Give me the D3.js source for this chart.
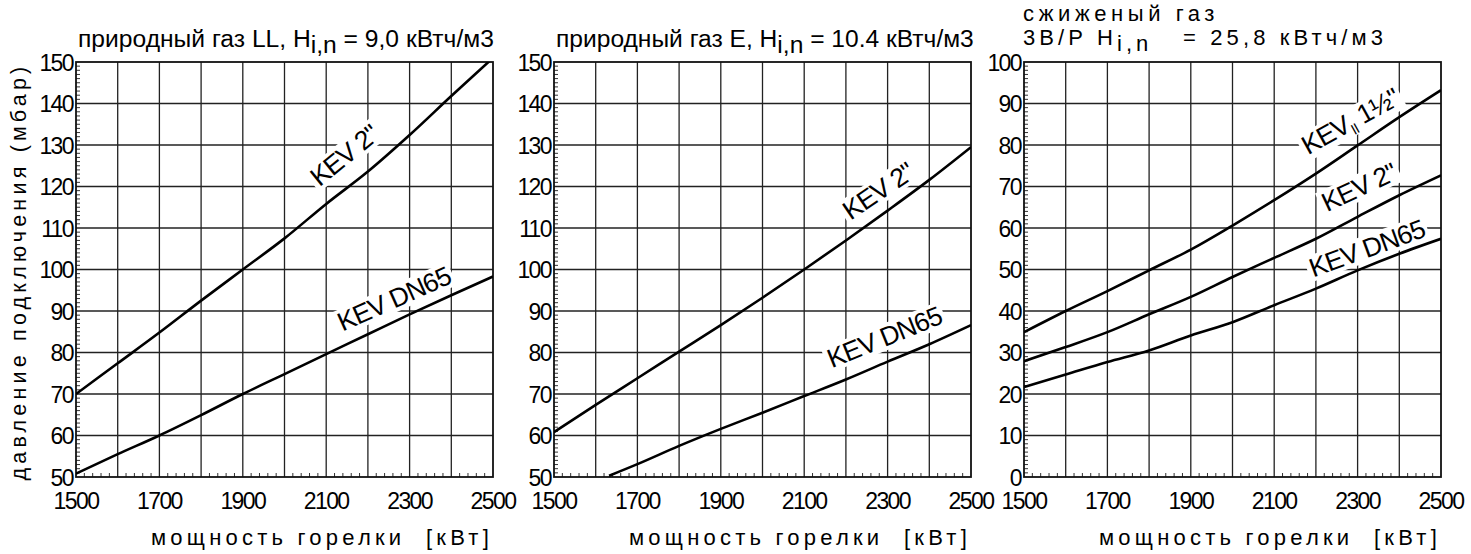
<!DOCTYPE html>
<html><head><meta charset="utf-8">
<script src="https://cdn.jsdelivr.net/npm/d3@7"></script>
<style>body{margin:0;background:#fff}svg{display:block}text{font-family:"Liberation Sans",Arial,sans-serif;fill:#000;white-space:pre}</style>
</head><body>
<svg id="c" width="1471" height="554"></svg>
<script>
// ---- data ----
const powerTicks = [1500, 1700, 1900, 2100, 2300, 2500];
const xFull = [1500, 1600, 1700, 1800, 1900, 2000, 2100, 2200, 2300, 2400, 2500];
const llKev2 = [70, 77.4, 84.8, 92.5, 100, 107.5, 115.8, 123.6, 132.4, 141.8, 151];
const llDN65 = [50.8, 55.5, 60, 64.9, 70, 74.8, 79.6, 84.4, 89.2, 93.8, 98.3];
const eKev2 = [60.8, 67.4, 73.8, 80.2, 86.6, 93.2, 100, 107, 114.2, 121.6, 129.5];
const xEDN65 = [1632, 1700, 1800, 1900, 2000, 2100, 2200, 2300, 2400, 2500];
const eDN65 = [50.3, 53.1, 57.5, 61.6, 65.5, 69.5, 73.5, 77.8, 82, 86.6];
const lpgKevII = [34.9, 40, 44.8, 49.8, 54.8, 60.6, 66.7, 73.1, 79.9, 86.7, 93.2];
const lpgKev2 = [27.9, 31.3, 34.9, 39.2, 43.4, 48.2, 52.8, 57.4, 62.7, 67.9, 72.7];
const lpgDN65 = [21.7, 24.7, 27.7, 30.5, 34.1, 37.3, 41.4, 45.4, 49.8, 53.8, 57.4];
const pressureTicksNG = [50, 60, 70, 80, 90, 100, 110, 120, 130, 140, 150];
const pressureTicksLPG = [0, 10, 20, 30, 40, 50, 60, 70, 80, 90, 100];
const xTitle = "мощность горелки  [кВт]";
const yTitle = "давление подключения (мбар)";

// ---- layout ----
const lefts = [76, 554, 1024], pw = 417, pTop = 62, pBottom = 477;
const svg = d3.select("#c");

const panels = [
  {domain: [50, 150], ticks: pressureTicksNG,
   series: [{x: xFull, y: llKev2}, {x: xFull, y: llDN65}],
   labels: [{t: 'KEV 2"', x: 2143, y: 127.6, a: -39}, {t: "KEV DN65", x: 2262, y: 93, a: -24}]},
  {domain: [50, 150], ticks: pressureTicksNG,
   series: [{x: xFull, y: eKev2}, {x: xEDN65, y: eDN65}],
   labels: [{t: 'KEV 2"', x: 2277, y: 119, a: -34}, {t: "KEV DN65", x: 2292, y: 83.8, a: -22}]},
  {domain: [0, 100], ticks: pressureTicksLPG,
   series: [{x: xFull, y: lpgKevII}, {x: xFull, y: lpgKev2}, {x: xFull, y: lpgDN65}],
   labels: [{t: "KEVII", x: 2282, y: 85.8, a: -29}, {t: 'KEV 2"', x: 2303, y: 69.9, a: -25}, {t: "KEV DN65", x: 2322, y: 55.2, a: -20}]}
];

function fit(sel, target) {
  const n = sel.text().length;
  const w = sel.node().getComputedTextLength();
  sel.attr("letter-spacing", (target - w) / n);
}
function fitSize(sel, target) {
  const fs = +sel.attr("font-size");
  const w = sel.node().getComputedTextLength();
  sel.attr("font-size", fs * target / w);
}

panels.forEach((p, i) => {
  const L = lefts[i];
  const x = d3.scaleLinear().domain([1500, 2500]).range([L, L + pw]);
  const y = d3.scaleLinear().domain(p.domain).range([pBottom, pTop]);
  const g = svg.append("g");

  // grid
  g.selectAll(".vg").data(d3.range(1600, 2500, 100)).join("line")
    .attr("x1", d => x(d)).attr("x2", d => x(d)).attr("y1", pTop).attr("y2", pBottom)
    .attr("stroke", "#222").attr("stroke-width", 1.3);
  g.selectAll(".hg").data(p.ticks.slice(1, -1)).join("line")
    .attr("y1", d => y(d)).attr("y2", d => y(d)).attr("x1", L).attr("x2", L + pw)
    .attr("stroke", "#222").attr("stroke-width", 1.3);

  // minor ticks
  g.selectAll(".ym").data(d3.range(p.domain[0] + 1, p.domain[1], 1).filter(v => v % 10)).join("line")
    .attr("x1", L).attr("x2", L + 4).attr("y1", d => y(d)).attr("y2", d => y(d))
    .attr("stroke", "#333").attr("stroke-width", 1);
  g.selectAll(".xm").data(d3.range(1520, 2500, 20).filter(v => v % 100)).join("line")
    .attr("x1", d => x(d)).attr("x2", d => x(d)).attr("y1", pBottom).attr("y2", pBottom - 4)
    .attr("stroke", "#333").attr("stroke-width", 1);

  // curve labels (white knock-out box behind text)
  p.labels.forEach(l => {
    const lg = g.append("g").attr("transform", `translate(${x(l.x)},${y(l.y)}) rotate(${l.a})`);
    const bg = lg.append("rect").attr("fill", "#fff");
    const t = lg.append("text")
      .attr("text-anchor", "middle").attr("dy", "0.36em")
      .attr("font-size", 26.5).attr("letter-spacing", -0.9);
    if (l.t === "KEVII") {
      t.append("tspan").text("KEV");
      t.append("tspan").text("II").attr("font-size", 15).attr("dy", 5);
      t.append("tspan").text(" 1½\"").attr("dy", -5);
    } else t.text(l.t);
    const b = t.node().getBBox();
    bg.attr("x", b.x - 3).attr("y", b.y + 2).attr("width", b.width + 6).attr("height", b.height - 4);
  });

  // frame
  g.append("rect").attr("x", L).attr("y", pTop).attr("width", pw).attr("height", pBottom - pTop)
    .attr("fill", "none").attr("stroke", "#111").attr("stroke-width", 1.8);

  // curves
  const cid = "clip" + i;
  svg.append("clipPath").attr("id", cid).append("rect")
    .attr("x", L).attr("y", pTop).attr("width", pw).attr("height", pBottom - pTop);
  const line = d3.line().x(d => x(d[0])).y(d => y(d[1])).curve(d3.curveMonotoneX);
  p.series.forEach(s => {
    g.append("path").datum(s.x.map((v, k) => [v, s.y[k]]))
      .attr("d", line).attr("fill", "none").attr("stroke", "#000").attr("stroke-width", 2.6)
      .attr("clip-path", `url(#${cid})`);
  });

  // axis tick labels
  g.selectAll(".yl").data(p.ticks).join("text")
    .attr("x", L - 3).attr("y", d => y(d)).attr("dy", "0.38em").attr("text-anchor", "end")
    .attr("font-size", 23).attr("letter-spacing", -1.6).text(d => d);
  g.selectAll(".xl").data(powerTicks).join("text")
    .attr("x", d => x(d)).attr("y", 509).attr("text-anchor", "middle")
    .attr("font-size", 23).attr("letter-spacing", -1.6).text(d => d);

  // x title
  const xt = g.append("text").attr("x", L + pw).attr("y", 545).attr("text-anchor", "end")
    .attr("font-size", 22).text(xTitle);
  fit(xt, 342);
});

// y title
const yt = svg.append("text").attr("transform", `translate(26,${(pTop + pBottom) / 2 + 2}) rotate(-90)`)
  .attr("text-anchor", "middle").attr("font-size", 21.5).text(yTitle);
fit(yt, 418);

// panel titles
function subTitle(xp, yp, a, b, c, width, spaced, fs) {
  const t = svg.append("text").attr("x", xp).attr("y", yp).attr("font-size", fs || 20);
  t.append("tspan").text(a);
  t.append("tspan").text(b).attr("dy", 6);
  t.append("tspan").text(c).attr("dy", -6);
  if (spaced) fit(t, width); else fitSize(t, width);
  return t;
}
subTitle(78, 47, "природный газ LL, H", "i,n", " = 9,0 кВтч/м3", 416, false);
subTitle(556, 47, "природный газ E, H", "i,n", " = 10.4 кВтч/м3", 418, false);
const t3a = svg.append("text").attr("x", 1023).attr("y", 21).attr("font-size", 22).text("сжиженый газ");
fit(t3a, 196);
subTitle(1023, 45, "3B/P H", "i,n", "   = 25,8 кВтч/м3", 364, true, 22);
</script>
</body></html>
